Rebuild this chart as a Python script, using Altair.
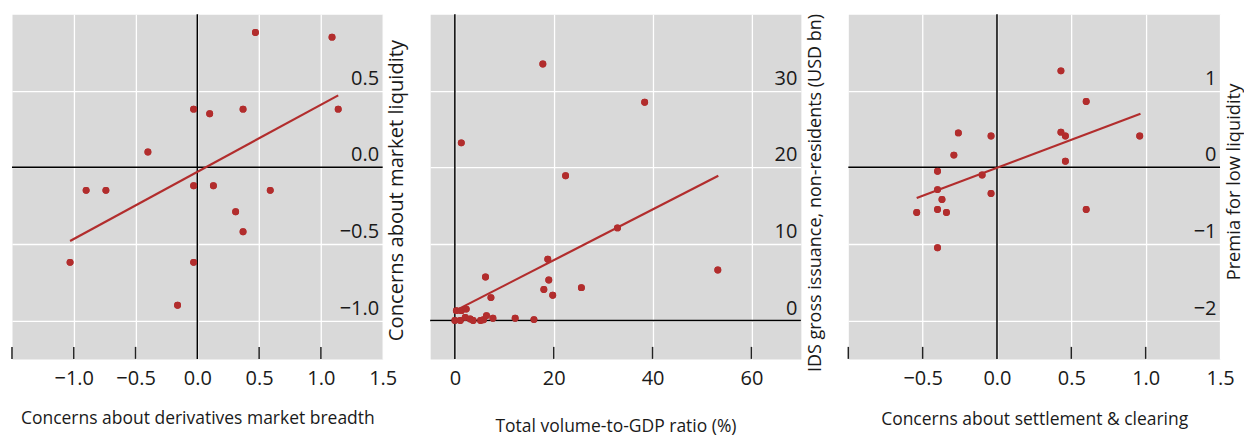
import altair as alt
import pandas as pd

FONT = "Open Sans"
RED = "#b22d2d"
BG = "#d9d9d9"
TXT = "#1a1a1a"

# ---- Panel 1: derivatives market breadth vs market liquidity ----
p1_x = [0.47, 1.09, -0.03, 0.10, 0.37, 1.14, -0.40, -0.90, -0.74, -0.03, 0.13, 0.59, 0.31, 0.37, -1.03, -0.03, -0.16]
p1_y = [0.88, 0.85, 0.38, 0.35, 0.38, 0.38, 0.10, -0.15, -0.15, -0.12, -0.12, -0.15, -0.29, -0.42, -0.62, -0.62, -0.90]
p1_fit_x = [-1.03, 1.14]
p1_fit_y = [-0.48, 0.47]

# ---- Panel 2: volume-to-GDP vs IDS issuance ----
p2_x = [17.8, 38.4, 1.3, 22.4, 32.9, 18.8, 6.2, 19.0, 53.2, 18.0, 19.8, 25.6, 7.3,
        0.3, 1.3, 2.3, 0.0, 1.1, 2.1, 3.1, 3.7, 5.2, 5.8, 6.4, 7.7, 12.2, 16.0]
p2_y = [33.5, 28.5, 23.2, 18.9, 12.1, 8.0, 5.7, 5.3, 6.6, 4.05, 3.3, 4.3, 3.0,
        1.3, 1.3, 1.5, 0.0, 0.0, 0.4, 0.2, 0.0, 0.0, 0.1, 0.65, 0.3, 0.3, 0.13]
p2_fit_x = [0.1, 53.3]
p2_fit_y = [1.3, 18.9]

# ---- Panel 3: settlement & clearing vs premia ----
p3_x = [0.43, 0.60, -0.26, -0.04, 0.43, 0.46, 0.96, -0.29, 0.46, -0.40, -0.10, -0.40, -0.04, -0.37, -0.54, -0.40, -0.34, 0.60, -0.40]
p3_y = [1.26, 0.86, 0.45, 0.41, 0.46, 0.41, 0.41, 0.16, 0.08, -0.05, -0.10, -0.29, -0.34, -0.42, -0.59, -0.55, -0.59, -0.55, -1.05]
p3_fit_x = [-0.54, 0.965]
p3_fit_y = [-0.40, 0.70]

H = 345


def panel(xs, ys, fx, fy, xdom, ydom, xvals, yvals, xticks, xfmt, yfmt,
          xtitle, ytitle, w, xtitle_y, ytitle_y, ytitle_size):
    xscale = alt.Scale(domain=xdom, nice=False, zero=False)
    yscale = alt.Scale(domain=ydom, nice=False, zero=False)
    xaxis = alt.Axis(
        orient="bottom", values=xvals, format=xfmt, title=xtitle,
        grid=True, gridColor="white", gridWidth=1.3, domain=False,
        ticks=False, tickSize=0, labelPadding=26, labelBaseline="alphabetic",
        labelFont=FONT, labelFontSize=20, labelColor=TXT, labelFlush=False,
        titleFont=FONT, titleFontSize=17.5, titleFontWeight="normal",
        titleColor=TXT, titleY=xtitle_y, titleBaseline="alphabetic",
    )
    yaxis = alt.Axis(
        orient="right", values=yvals, format=yfmt, title=ytitle,
        grid=True, gridColor="white", gridWidth=1.3, domain=False,
        ticks=False, tickSize=0, labelPadding=-4, labelAlign="right",
        labelBaseline="alphabetic", labelOffset=-6.5,
        labelFont=FONT, labelFontSize=20, labelColor=TXT, labelFlush=False,
        titleFont=FONT, titleFontSize=ytitle_size, titleFontWeight="normal",
        titleColor=TXT, titleAngle=270, titleX=19.5, titleY=ytitle_y,
        titleBaseline="alphabetic", titleAlign="center",
    )
    pts_df = pd.DataFrame({"x": xs, "y": ys})
    fit_df = pd.DataFrame({"x": fx, "y": fy})
    zx_df = pd.DataFrame({"x": [0]})
    zy_df = pd.DataFrame({"y": [0]})
    tk_df = pd.DataFrame({"x": xticks})

    pts = alt.Chart(pts_df).mark_circle(size=48, color=RED, opacity=1).encode(
        x=alt.X("x:Q", scale=xscale, axis=xaxis),
        y=alt.Y("y:Q", scale=yscale, axis=yaxis),
    )
    fit = alt.Chart(fit_df).mark_line(color=RED, strokeWidth=2.2).encode(
        x=alt.X("x:Q", scale=xscale), y=alt.Y("y:Q", scale=yscale)
    )
    zero_v = alt.Chart(zx_df).mark_rule(color="black", strokeWidth=1.5).encode(
        x=alt.X("x:Q", scale=xscale)
    )
    zero_h = alt.Chart(zy_df).mark_rule(color="black", strokeWidth=1.5).encode(
        y=alt.Y("y:Q", scale=yscale)
    )
    ticks = alt.Chart(tk_df).mark_rule(color="#222222", strokeWidth=1.5).encode(
        x=alt.X("x:Q", scale=xscale), y=alt.value(H - 12), y2=alt.value(H)
    )
    return alt.layer(pts, zero_v, zero_h, ticks, fit, pts).properties(width=w, height=H)


c1 = panel(p1_x, p1_y, p1_fit_x, p1_fit_y, [-1.5, 1.5], [-1.25, 1.0],
           [-1.0, -0.5, 0.0, 0.5, 1.0, 1.5], [-1.0, -0.5, 0.0, 0.5],
           [-1.5, -1.0, -0.5, 0.5, 1.0], ".1f", ".1f",
           "Concerns about derivatives market breadth", "Concerns about market liquidity",
           371, 64.5, 176, 20.2)
c2 = panel(p2_x, p2_y, p2_fit_x, p2_fit_y, [-5, 70], [-5, 40],
           [0, 20, 40, 60], [0, 10, 20, 30],
           [20, 40, 60], "d", "d",
           "Total volume-to-GDP ratio (%)", "IDS gross issuance, non-residents (USD bn)",
           371, 72.5, 178.5, 18.0)
c3 = panel(p3_x, p3_y, p3_fit_x, p3_fit_y, [-1.0, 1.5], [-2.5, 2.0],
           [-0.5, 0.0, 0.5, 1.0, 1.5], [-2, -1, 0, 1],
           [-1.0, -0.5, 0.5, 1.0], ".1f", "d",
           "Concerns about settlement & clearing", "Premia for low liquidity",
           372, 66, 167.5, 18.3)

chart = alt.hconcat(c1, c2, c3, spacing=47.5, bounds="flush").properties(
    padding={"left": 10, "top": 12, "right": 0, "bottom": 0},
    background="white",
).configure_view(fill=BG, stroke="transparent")

chart.save("out.html", embed_options={"renderer": "svg", "actions": False})
